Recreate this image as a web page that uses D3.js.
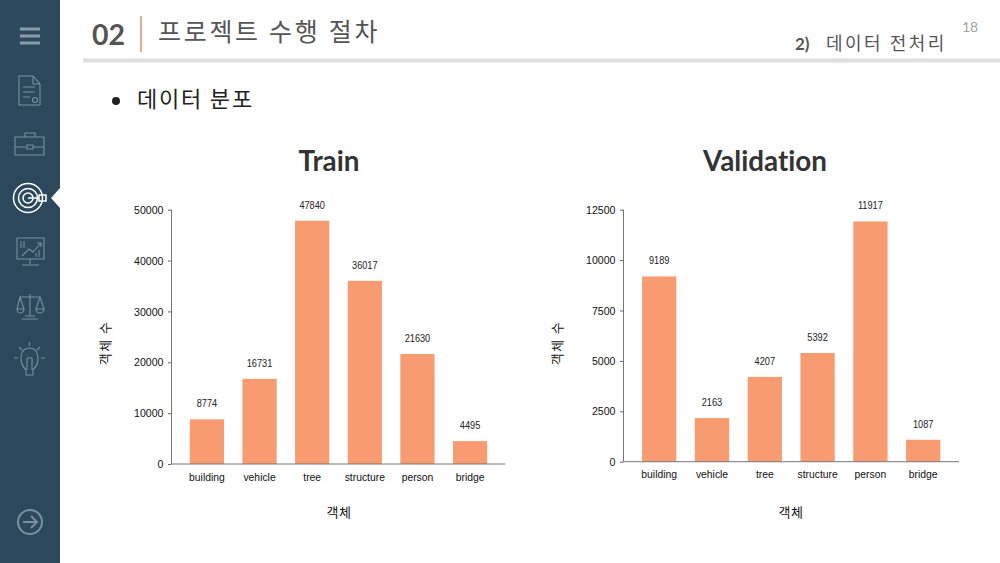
<!DOCTYPE html>
<html><head><meta charset="utf-8">
<script src="https://cdn.jsdelivr.net/npm/d3@7/dist/d3.min.js"></script>
<style>
html,body{margin:0;padding:0;background:#fff}
svg{display:block}
text{font-family:"Noto Sans CJK KR","Noto Sans",sans-serif}
.lat{font-family:"Liberation Sans",Arial,sans-serif}
.ttl{font-family:"Lato","Noto Sans",sans-serif;font-weight:700;font-variant-ligatures:none}
</style></head><body>
<svg id="c" width="1000" height="563"></svg>
<script>
const categories = ["building","vehicle","tree","structure","person","bridge"];
const trainValues = [8774,16731,47840,36017,21630,4495];
const validationValues = [9189,2163,4207,5392,11917,1087];
const trainTicks = [0,10000,20000,30000,40000,50000];
const validationTicks = [0,2500,5000,7500,10000,12500];
const barColor = "#f89b70";
const svg = d3.select("#c");

function narrow(sel,k){
  sel.each(function(){
    this.setAttribute("textLength",this.getComputedTextLength()*k);
    this.setAttribute("lengthAdjust","spacingAndGlyphs");
  });
}

// sidebar
svg.append("rect").attr("width",60).attr("height",563).attr("fill","#2b485c");
svg.append("path").attr("d","M60,188 L51,198 L60,208Z").attr("fill","#fff");
const ic = svg.append("g").attr("fill","none").attr("stroke","#7a909e").attr("stroke-width",1.1);
// menu
[29,36,43].forEach(y=>ic.append("line").attr("x1",20).attr("x2",40).attr("y1",y).attr("y2",y).attr("stroke-width",3).attr("stroke","#8a9ca8"));
// doc
ic.append("path").attr("d","M19,76 H33 L40,84 V105 H19Z M33,76 V84 H40 M23,87 H35 M23,92 H35 M23,97 H30");
ic.append("circle").attr("cx",35).attr("cy",100).attr("r",2.5);
// briefcase
ic.append("path").attr("d","M15,137 H44 V155 H15Z M25,137 V133 H35 V137 M15,147 H27 M33,147 H44 M27,145 H33 V149 H27Z");
// target
const tg = svg.append("g").attr("fill","none").attr("stroke","#fff").attr("stroke-width",1.5);
tg.append("circle").attr("cx",28).attr("cy",198).attr("r",14.5);
tg.append("circle").attr("cx",28).attr("cy",198).attr("r",9.5);
tg.append("circle").attr("cx",28).attr("cy",198).attr("r",5);
tg.append("path").attr("d","M28,198 H39 M39,195 H46 V201 H39Z");
// chart monitor
ic.append("path").attr("d","M17,238 H44 V259 H17Z M30,259 V264 M22,265 H39 M22,256 L29,249 L33,252 L41,243 M37,243 H41 V247 M21,241 V248 M24,241 V248 M36,257 V253 M39,257 V250");
// scale
ic.append("path").attr("d","M30,294 V316 M25,316 H35 M22,319 H38 M20,297 H40 M20,297 L24,309 H17 Z M40,297 L44,309 H36 Z M17,309 A3.5,4 0 0 0 24,309 M36,309 A4,4 0 0 0 44,309");
// bulb
ic.append("path").attr("d","M26,370 C18,362 20,348 29.5,348 C39,348 41,362 33,370 V375 H26Z M27,358 V370 M32,358 V370 M27,358 H32");
ic.append("path").attr("d","M29.5,342 V346 M14,358 H18 M41,358 H45 M19,347 L22,350 M40,347 L37,350");
// arrow circle
ic.append("circle").attr("cx",30).attr("cy",522).attr("r",12).attr("stroke-width",2);
ic.append("path").attr("d","M23,522 H36 M31,516 L37,522 L31,528").attr("stroke-width",2);

// header
svg.append("text").attr("class","ttl").attr("x",92).attr("y",44.5).attr("font-size",28.5).attr("fill","#555").text("02");
svg.append("line").attr("x1",141).attr("x2",141).attr("y1",16).attr("y2",52).attr("stroke","#eba98a").attr("stroke-width",2);
svg.append("text").attr("x",158).attr("y",41).attr("font-size",25).attr("letter-spacing",2.7).attr("fill","#555").text("프로젝트 수행 절차");
svg.append("rect").attr("x",83).attr("y",58.5).attr("width",917).attr("height",4).attr("fill","#dedede");
svg.append("text").attr("x",962).attr("y",32).attr("font-size",14).attr("fill","#a6a6a6").attr("class","ttl").style("font-weight",400).text("18");
svg.append("text").attr("class","ttl").attr("x",795).attr("y",50).attr("font-size",17).attr("fill","#555").text("2)");
svg.append("text").attr("x",826).attr("y",49.5).attr("font-size",18).attr("letter-spacing",2.5).attr("fill","#555").text("데이터 전처리");
svg.append("circle").attr("cx",116).attr("cy",101).attr("r",4).attr("fill","#222");
svg.append("text").attr("x",137).attr("y",107).attr("font-size",22).attr("letter-spacing",1.8).attr("fill","#222").text("데이터 분포");

function chart(o){
  const g = svg.append("g");
  const x = d3.scaleBand().domain(categories).range(o.xr).paddingInner(.35).paddingOuter(.175);
  const y = d3.scaleLinear().domain([0,d3.max(o.ticks)]).range([o.y0,209.7]);
  g.append("text").attr("class","ttl").attr("x",o.cx).attr("y",170.5).attr("text-anchor","middle")
    .attr("font-size",27.8).attr("fill","#333").text(o.title);
  g.selectAll("rect.bar").data(o.values).join("rect").attr("class","bar")
    .attr("x",(d,i)=>x(categories[i])).attr("width",x.bandwidth())
    .attr("y",d=>y(d)).attr("height",d=>o.y0-y(d)).attr("fill",barColor);
  g.selectAll("text.v").data(o.values).join("text").attr("class","v lat")
    .attr("x",(d,i)=>x(categories[i])+x.bandwidth()/2).attr("y",d=>y(d)-12)
    .attr("text-anchor","middle").attr("font-size",10).attr("fill","#222").text(d=>d)
    .call(narrow,.92);
  const ay = g.append("g").attr("transform",`translate(${o.ax},0)`)
    .call(d3.axisLeft(y).tickValues(o.ticks).tickSize(3.5).tickPadding(4.5).tickFormat(d3.format("d")));
  ay.selectAll("text").attr("class","lat").attr("font-size",11.5).attr("fill","#111").call(narrow,.92);
  ay.selectAll("line").attr("stroke","#666");
  ay.select(".domain").attr("stroke","#777").attr("d",`M0,${y.range()[1]}V${o.y0}`);
  const ax = g.append("g").attr("transform",`translate(0,${o.y0})`)
    .call(d3.axisBottom(x).tickSize(0).tickPadding(8.5));
  ax.selectAll("text").attr("class","lat").attr("font-size",11.5).attr("fill","#111").call(narrow,.9);
  ax.select(".domain").attr("stroke","#777").attr("d",`M${o.ax},0H${o.xe}`);
  g.append("text").attr("x",o.lx).attr("y",516.5).attr("text-anchor","middle").attr("font-size",13).attr("fill","#111").attr("letter-spacing",.5).text("객체");
  g.append("text").attr("transform",`translate(${o.ly},343) rotate(-90)`).attr("text-anchor","middle").attr("font-size",13).attr("letter-spacing",1.4).attr("fill","#111").text("객체 수");
}
chart({title:"Train",cx:329,values:trainValues,ticks:trainTicks,ax:171.5,xe:505,xr:[180.6,496.4],y0:464,lx:339,ly:110});
chart({title:"Validation",cx:765,values:validationValues,ticks:validationTicks,ax:623.5,xe:959,xr:[632.8,949.6],y0:461.7,lx:791,ly:562});
</script></body></html>
